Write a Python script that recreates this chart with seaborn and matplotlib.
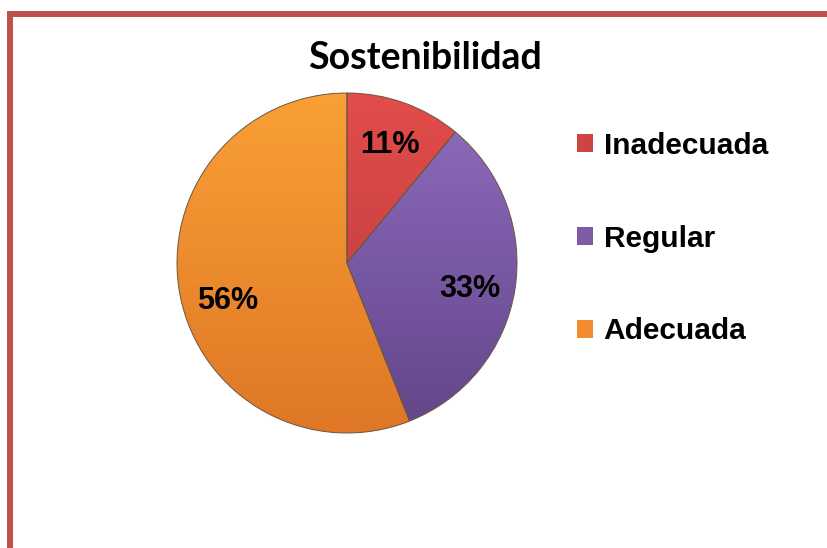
import matplotlib
matplotlib.use("Agg")
import numpy as np
import matplotlib.pyplot as plt
import seaborn as sns
from matplotlib.patches import Rectangle, Patch
from matplotlib.colors import to_rgb

# Datos
categorias = ["Inadecuada", "Regular", "Adecuada"]
porcentajes = [11, 33, 56]
colores = ["#D04343", "#7D5BA6", "#F08C2E"]
# tonos claro / oscuro para el degradado de cada porcion
claros = ["#E24D4B", "#8F6DC0", "#FAA036"]
oscuros = ["#B63838", "#624588", "#DF7726"]

sns.set_theme(style="white")
plt.rcParams['font.family'] = ['Liberation Sans', 'DejaVu Sans']

W, H = 828, 548
fig = plt.figure(figsize=(W / 100, H / 100), dpi=100)

# Marco rojo (arriba e izquierda)
fig.patches.append(Rectangle((9.5 / W, -0.1), 1.2, (H - 14) / H + 0.1,
                             transform=fig.transFigure, fill=False,
                             edgecolor="#C0504D", linewidth=4.3))

# Pastel
cx, cy, r = 347, 263, 170
ax = fig.add_axes([(cx - r) / W, (H - cy - r) / H, 2 * r / W, 2 * r / H])
wedges, textos, pcts = ax.pie(porcentajes, colors=colores, startangle=90,
                              counterclock=False, autopct="%1.0f%%",
                              pctdistance=0.74,
                              wedgeprops=dict(edgecolor="#6b5540", linewidth=0.7),
                              textprops=dict(fontsize=22, fontweight="bold",
                                             color="black"))
ax.set_xlim(-1, 1)
ax.set_ylim(-1, 1)
ax.set_aspect("auto")
ax.axis("off")

# degradado vertical dentro de cada porcion
t = np.linspace(0, 1, 256)[:, None, None]
for w, c1, c2 in zip(wedges, claros, oscuros):
    grad = (1 - t) * np.array(to_rgb(c1)) + t * np.array(to_rgb(c2))
    grad = np.repeat(grad, 2, axis=1)
    im = ax.imshow(grad, extent=(-1, 1, -1, 1), origin="upper",
                   aspect="auto", zorder=w.get_zorder() + 0.1)
    im.set_clip_path(w)
    w.set_facecolor("none")
    w.set_zorder(w.get_zorder() + 0.2)
for p in pcts:
    p.set_zorder(5)

# pequeño ajuste angular de las etiquetas como en la figura original
ajustes = [0, -3, 7]
theta0 = 90
for p, v, d in zip(pcts, porcentajes, ajustes):
    mid = theta0 - v * 3.6 / 2 + d
    theta0 -= v * 3.6
    p.set_position((0.74 * np.cos(np.radians(mid)),
                    0.74 * np.sin(np.radians(mid))))

fig.text(425 / W, 1 - 69 / H, "Sostenibilidad", ha="center", va="baseline",
         fontsize=27, fontweight="bold", color="black",
         family=["Lato", "DejaVu Sans"])

handles = [Patch(facecolor=c, edgecolor="none") for c in colores]
leg = fig.legend(handles, categorias, loc="upper left",
                 bbox_to_anchor=(550 / W, 1 - 105 / H), frameon=False,
                 prop=dict(size=21.5, weight="bold"), handlelength=0.55,
                 handleheight=0.55, handletextpad=0.35, labelspacing=2.17)
for txt in leg.get_texts():
    txt.set_color("black")

fig.savefig("out.png", dpi=100)
